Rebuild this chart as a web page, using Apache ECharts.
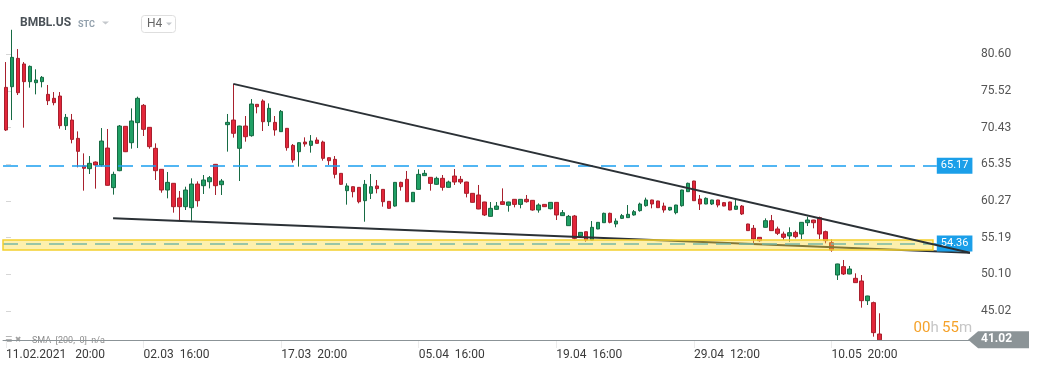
<!DOCTYPE html>
<html><head><meta charset="utf-8">
<script src="https://cdn.jsdelivr.net/npm/echarts@6/dist/echarts.min.js"></script>
<style>html,body{margin:0;padding:0;background:#fff}#c{width:1041px;height:374px}</style>
</head><body><div id="c"></div>
<script>
// [open, close, low, high]
const ohlc = [
[76.02,70.11,69.97,79.53],[76.11,80.18,71.49,84.0],[80.04,75.28,74.96,81.33],[79.26,76.81,70.43,79.53],
[76.81,78.93,75.98,79.05],[76.67,77.04,75.05,78.52],[76.81,77.41,76.02,77.59],[75.05,74.17,73.57,76.35],
[74.50,73.90,73.53,75.37],[74.82,70.71,70.29,75.37],[70.71,71.86,70.11,72.33],[71.49,68.81,68.26,72.33],
[68.95,67.15,64.93,69.92],[65.12,64.80,61.70,66.87],[64.75,65.49,64.01,66.50],[65.67,65.26,61.98,65.75],
[65.26,68.58,65.03,70.38],[67.61,62.44,62.40,70.25],[62.12,63.96,61.15,64.33],[64.47,70.66,64.40,70.80],
[70.62,67.10,67.05,70.66],[68.35,71.36,67.52,73.11],[71.13,74.50,67.61,74.73],[73.53,70.20,69.28,73.71],
[70.48,67.80,67.52,70.52],[67.57,64.47,63.18,68.26],[64.66,61.79,61.42,64.70],[61.79,62.85,60.64,64.29],
[62.72,59.48,58.65,62.76],[60.68,59.48,57.63,61.65],[59.48,61.79,59.02,62.25],[59.34,62.62,57.54,63.41],
[62.62,60.31,59.48,62.99],[62.39,63.18,61.24,63.87],[62.94,63.50,62.02,63.73],[65.35,62.39,61.10,65.40],
[62.53,63.04,61.10,63.32],[70.85,71.17,67.11,72.33],[71.49,69.65,69.05,76.48],[67.57,70.66,63.04,70.70],
[70.66,69.18,68.49,72.05],[69.32,73.71,69.18,74.40],[73.67,73.34,72.42,73.70],[74.13,71.26,69.97,74.36],
[71.26,73.11,70.66,73.80],[71.17,70.11,69.32,72.05],[69.88,72.69,69.85,72.88],[70.34,67.66,67.24,70.38],
[67.98,65.95,65.58,68.17],[67.10,68.35,65.03,68.38],[68.44,68.17,67.80,69.09],[67.98,68.58,66.97,69.41],
[68.72,68.26,68.22,69.09],[68.44,66.18,65.86,68.63],[66.27,65.86,65.26,66.30],[66.04,63.96,63.41,66.50],
[64.10,62.58,62.49,64.12],[61.70,62.35,59.76,62.72],[62.25,61.56,60.77,62.28],[62.16,60.17,59.94,62.20],
[60.31,62.58,57.40,63.18],[61.33,62.25,60.54,64.01],[62.35,61.98,61.33,63.18],[61.88,60.17,59.48,61.90],
[60.22,59.25,59.20,60.25],[59.57,62.85,59.48,62.88],[62.85,62.25,61.70,62.94],[63.27,60.17,60.13,64.43],
[60.17,61.47,60.13,61.50],[61.88,63.96,61.85,64.66],[63.78,64.10,63.75,64.56],[63.55,62.71,61.70,63.58],
[62.58,63.41,62.49,63.64],[63.41,62.16,61.70,63.87],[62.16,62.90,62.13,63.09],[63.73,62.90,62.49,64.70],
[63.27,62.90,62.62,63.73],[62.90,61.33,60.77,62.93],[61.33,60.08,60.05,61.36],[61.10,59.16,59.13,62.49],
[60.13,58.33,58.19,60.16],[58.14,59.25,58.10,60.13],[59.11,59.57,59.02,60.13],[60.17,59.80,59.77,62.02],
[59.67,60.13,58.79,60.16],[60.50,59.80,59.39,60.53],[59.80,60.50,59.25,60.53],[60.50,60.17,60.04,61.10],
[60.36,59.02,58.93,60.39],[59.02,59.71,58.65,59.94],[59.80,59.48,59.45,59.83],[59.20,60.08,59.11,60.11],
[60.08,58.33,57.63,60.11],[58.24,58.65,58.21,59.02],[56.85,58.14,56.82,58.33],[58.19,55.09,54.95,58.33],
[55.42,55.92,55.39,55.95],[56.01,54.86,54.63,56.04],[54.86,56.62,54.83,57.49],[56.39,57.31,56.36,57.34],
[57.26,58.56,57.23,58.65],[58.56,57.31,57.17,58.65],[57.08,57.49,56.62,57.86],[57.86,58.24,57.77,58.47],
[57.96,58.42,57.93,59.71],[58.33,58.79,58.24,59.02],[58.93,59.85,58.79,60.04],[59.62,60.41,59.48,60.73],
[60.41,59.85,59.25,60.44],[60.27,59.34,59.31,60.30],[59.57,59.02,58.65,60.04],[59.02,59.39,58.93,59.42],
[58.65,59.71,58.42,59.74],[59.62,61.79,59.48,61.82],[61.56,62.72,61.53,62.81],[63.04,60.31,60.28,63.07],
[60.54,59.85,59.02,61.10],[59.85,60.64,59.82,60.77],[59.85,60.41,59.71,60.44],[60.41,59.71,59.39,60.44],
[60.04,59.57,59.54,60.13],[60.13,59.02,58.99,60.16],[59.11,59.57,59.08,60.41],[59.57,58.47,58.33,59.71],
[57.08,56.16,56.13,57.11],[56.48,55.00,54.31,56.94],[55.23,54.77,54.63,55.26],[56.62,57.54,56.59,57.86],
[57.54,56.16,56.13,58.33],[56.39,55.79,55.55,56.71],[55.69,55.23,54.86,56.02],[55.42,55.88,54.63,56.62],
[55.92,55.32,55.09,56.16],[55.69,57.31,55.00,57.34],[57.26,57.63,56.80,58.10],[57.63,57.26,56.48,57.66],
[57.96,55.69,55.00,58.10],[56.02,54.77,54.40,56.16],[54.49,53.48,53.24,54.95],[50.01,51.54,49.32,51.57],
[51.17,50.15,50.01,52.09],[50.15,50.84,50.12,51.26],[49.55,48.95,48.92,50.24],[49.18,46.45,45.48,50.01],
[46.45,47.10,45.85,47.13],[46.18,42.02,41.46,46.32],[41.83,41.02,41.00,44.70]
];
const tickLabels = ['11.02.2021   20:00','02.03  16:00','17.03  20:00','05.04  16:00','19.04  16:00','29.04  12:00','10.05  20:00'];
const labelStep = 23;
const slotCount = 162;
const categories = Array.from({length: slotCount}, (_, i) => String(i));
const yTicks = [45.02, 50.10, 55.19, 60.27, 65.35, 70.43, 75.52, 80.60];
const upperTrend = [[38, 76.50], [161.15, 53.10]];
const lowerTrend = [[17.9, 57.87], [161.15, 53.10]];
const bandRange = [53.47, 54.86];
const levelA = 65.17, levelB = 54.36, lastPrice = 41.02;

const slotW = 5.982;
const chart = echarts.init(document.getElementById('c'));
const font = 'Roboto, "Noto Sans", sans-serif';
const showIdx = (i) => i % labelStep === 0 && (i / labelStep) < tickLabels.length;

const boxLabel = (txt) => ({show:true, position:'end', distance:0, formatter:txt, backgroundColor:'#1b9fe9',
  color:'#fff', fontSize:11, fontFamily:font, padding:[3,4,2,4]});
const blueDash = {color:'#1a9ff0', type:[15,8], width:1.5, opacity:1};

chart.setOption({
  animation:false,
  grid:{left:3, top:0, width: slotCount*slotW, height:340},
  xAxis:[
    {type:'category', data:categories, boundaryGap:true,
     axisLine:{lineStyle:{color:'#8b9397', width:1}},
     axisTick:{show:true, alignWithLabel:true, interval:(i)=>showIdx(i), length:8, lineStyle:{color:'#ececec'}},
     axisLabel:{interval:(i)=>showIdx(i), align:'left', margin:9, color:'#3a3a3a', fontSize:12, fontFamily:font,
       formatter:(v, i)=> showIdx(i) ? tickLabels[i/labelStep] : ''},
     splitLine:{show:false}},
    {type:'value', min:-0.5, max:slotCount-0.5, show:false, splitLine:{show:false}}
  ],
  yAxis:{type:'value', position:'right', min:41.0, max:88.13, splitLine:{show:false},
    axisLine:{show:false},
    axisTick:{show:true, customValues:yTicks, length:5, lineStyle:{color:'#d6d6d6'}},
    axisLabel:{customValues:yTicks, margin:9, color:'#555', fontSize:12, fontFamily:font, formatter:(v)=>v.toFixed(2)}},
  series:[
    {type:'candlestick', xAxisIndex:0, data:ohlc, barWidth:4, z:2,
     itemStyle:{color:'#20a065', color0:'#e2263a', borderColor:'#176b44', borderColor0:'#a8202d', borderWidth:1}},
    {type:'line', xAxisIndex:1, data:lowerTrend, symbol:'none', silent:true, z:3,
     lineStyle:{color:'#2b3136', width:2},
     markLine:{silent:true, symbol:['none','none'], z:5, animation:false,
       lineStyle:blueDash,
       data:[
         [{coord:[-0.5, levelA], lineStyle:blueDash, label:boxLabel(levelA.toFixed(2))},{coord:[155.6, levelA]}],
         [{coord:[-0.5, levelB], lineStyle:blueDash, label:boxLabel(levelB.toFixed(2))},{coord:[155.6, levelB]}],
         [{coord:[-0.5, lastPrice], lineStyle:{color:'#8b9397', type:'solid', width:1}, label:{show:false}},{coord:[160.9, lastPrice]}]
       ]},
     markArea:{silent:true, z:10,
       itemStyle:{color:'rgba(250,220,60,0.42)', borderColor:'#f4cf2e', borderWidth:1.5},
       data:[[{coord:[-0.5, bandRange[1]]},{coord:[154.96, bandRange[0]]}]]}
    },
    {type:'line', xAxisIndex:1, data:upperTrend, symbol:'none', silent:true, z:12,
     lineStyle:{color:'#2b3136', width:2}}
  ]
});

const yP = chart.convertToPixel({yAxisIndex:0}, lastPrice);
const xR = chart.convertToPixel({xAxisIndex:1}, slotCount-0.5);
chart.setOption({graphic:[
  {type:'text', left:20, top:17, style:{text:'BMBL.US', fill:'#4b5258', font:'bold 12px '+font}},
  {type:'text', left:78, top:20, style:{text:'STC', fill:'#93a1ad', font:'bold 9px '+font}},
  {type:'polygon', shape:{points:[[102,21.5],[109,21.5],[105.5,24.5]]}, style:{fill:'#c4c8cc'}},
  {type:'rect', shape:{x:141.5, y:15.5, width:34, height:17, r:3}, style:{fill:'#fff', stroke:'#dedede', lineWidth:1}},
  {type:'text', left:147, top:18, style:{text:'H4', fill:'#666', font:'12px '+font}},
  {type:'polygon', shape:{points:[[166,22.5],[172,22.5],[169,25.5]]}, style:{fill:'#c4c8cc'}},
  {type:'text', left:5, top:336, style:{text:'☰ ✖', fill:'#a0a0a0', font:'8px "DejaVu Sans"'}},
  {type:'text', left:32, top:336, style:{text:'SMA  [200,  0]  n/a', fill:'#8e8e8e', font:'9px '+font}},
  {type:'text', right:1041-xR, top:321, style:{text:'{o|00}{g|h} {o|55}{g|m}',
     rich:{o:{fill:'#f5a22a', font:'15px '+font}, g:{fill:'#c6c6c6', font:'15px '+font}}}},
  {type:'polygon', z:20, shape:{points:[[xR-4,yP],[xR+6,yP-8.5],[1029,yP-8.5],[1029,yP+8.5],[xR+6,yP+8.5]]}, style:{fill:'#8c9497'}},
  {type:'text', z:21, left:xR+9, top:yP-7, style:{text:lastPrice.toFixed(2), fill:'#fff', font:'bold 12px '+font}}
]});
</script></body></html>
